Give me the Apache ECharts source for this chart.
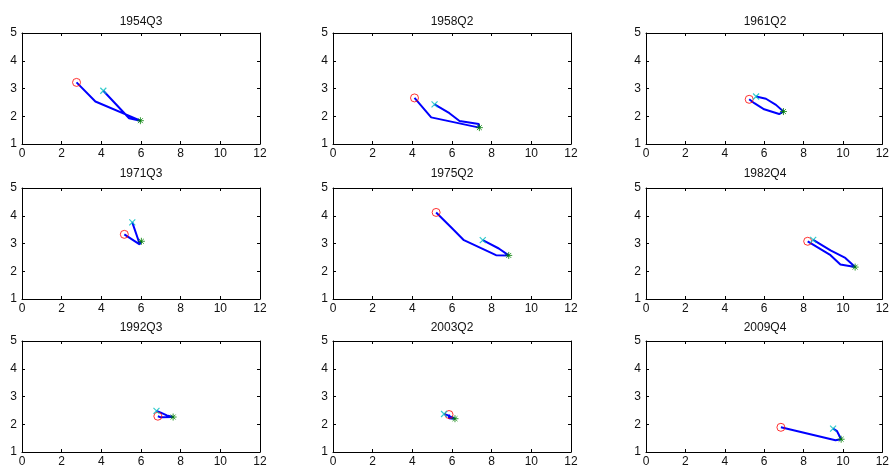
<!DOCTYPE html>
<html>
<head>
<meta charset="utf-8">
<script src="https://cdn.jsdelivr.net/npm/echarts@6/dist/echarts.min.js"></script>
<style>
  html, body { margin: 0; padding: 0; background: #fff; }
  #main { width: 892px; height: 468px; }
</style>
</head>
<body>
<div id="main"></div>
<script>
// panel titles
var titles = ['1954Q3', '1958Q2', '1961Q2', '1971Q3', '1975Q2', '1982Q4', '1992Q3', '2003Q2', '2009Q4'];

// paths (x, y per panel)
var x1954Q3 = [2.75, 3.70, 5.97, 5.40, 4.10];
var y1954Q3 = [3.22, 2.53, 1.84, 1.93, 2.92];
var x1958Q2 = [4.11, 4.95, 7.38, 7.35, 6.38, 5.87, 5.12];
var y1958Q2 = [2.66, 1.96, 1.59, 1.72, 1.83, 2.11, 2.43];
var x1961Q2 = [5.24, 5.50, 6.00, 6.76, 6.98, 6.60, 6.09, 5.59];
var y1961Q2 = [2.61, 2.47, 2.25, 2.08, 2.17, 2.41, 2.63, 2.71];
var x1971Q3 = [5.16, 5.93, 6.02, 5.93, 5.56];
var y1971Q3 = [3.33, 2.97, 3.08, 2.99, 3.76];
var x1975Q2 = [5.20, 6.04, 6.60, 8.22, 8.86, 8.36, 7.55];
var y1975Q2 = [4.12, 3.52, 3.12, 2.58, 2.57, 2.82, 3.12];
var x1982Q4 = [8.21, 9.37, 9.87, 10.62, 10.12, 9.37, 8.49];
var y1982Q4 = [3.08, 2.58, 2.24, 2.15, 2.48, 2.75, 3.13];
var x1992Q3 = [6.85, 7.00, 7.62, 7.30, 7.00, 6.78];
var y1992Q3 = [2.29, 2.25, 2.26, 2.32, 2.42, 2.48];
var x2003Q2 = [5.85, 5.85, 5.95, 6.15, 6.00, 5.80, 5.60];
var y2003Q2 = [2.35, 2.22, 2.15, 2.20, 2.25, 2.32, 2.37];
var x2009Q4 = [6.85, 9.62, 9.91, 9.70, 9.50];
var y2009Q4 = [1.89, 1.42, 1.46, 1.75, 1.84];

// index of the green (*) point in each path
var turnIndex = [2, 2, 4, 2, 4, 3, 2, 3, 2];

var xTicks = [0, 12, 2];
var yTicks = [1, 5, 1];

var xs = [x1954Q3, x1958Q2, x1961Q2, x1971Q3, x1975Q2, x1982Q4, x1992Q3, x2003Q2, x2009Q4];
var ys = [y1954Q3, y1958Q2, y1961Q2, y1971Q3, y1975Q2, y1982Q4, y1992Q3, y2003Q2, y2009Q4];

var colLeft = [22, 333, 646];
var rowTop = [33, 188, 341];
var titleTop = [16, 168, 322];
var gw = 238, gh = 111;

var font = 'Liberation Sans, Arial, sans-serif';
var starPath = 'path://M0,-10L0,10M-10,0L10,0M-7,-7L7,7M-7,7L7,-7';
var crossPath = 'path://M-10,-10L10,10M-10,10L10,-10';
var ringPath = 'path://M10,0A10,10,0,1,1,-10,0A10,10,0,1,1,10,0Z';

var grids = [], xAxes = [], yAxes = [], series = [], titleList = [];

function axisBase(show, pos, min, max, step) {
  return {
    type: 'value', position: pos, min: min, max: max, interval: step,
    axisLine: { show: true, onZero: false, lineStyle: { color: '#000', width: 1 } },
    axisTick: { show: true, inside: true, length: 3, lineStyle: { color: '#000' } },
    axisLabel: { show: show, color: '#111', fontSize: 12, fontFamily: font, margin: 4 },
    splitLine: { show: false }
  };
}

for (var i = 0; i < 9; i++) {
  var c = i % 3, r = Math.floor(i / 3);
  grids.push({ left: colLeft[c], top: rowTop[r], width: gw, height: gh, containLabel: false });
  var xb = axisBase(true, 'bottom', xTicks[0], xTicks[1], xTicks[2]); xb.gridIndex = i;
  var xt = axisBase(false, 'top', xTicks[0], xTicks[1], xTicks[2]); xt.gridIndex = i;
  var yl = axisBase(true, 'left', yTicks[0], yTicks[1], yTicks[2]); yl.gridIndex = i;
  var yr = axisBase(false, 'right', yTicks[0], yTicks[1], yTicks[2]); yr.gridIndex = i;
  yl.axisLabel.margin = 5;
  xAxes.push(xb, xt);
  yAxes.push(yl, yr);

  titleList.push({
    text: titles[i], left: colLeft[c] + gw / 2, top: titleTop[r], textAlign: 'center', padding: 0,
    textStyle: { fontSize: 12, fontWeight: 'normal', color: '#111', fontFamily: font }
  });

  var pts = xs[i].map(function (v, k) { return [v, ys[i][k]]; });
  var xi = 2 * i, yi = 2 * i;
  series.push({
    type: 'line', xAxisIndex: xi, yAxisIndex: yi, data: pts, showSymbol: false, silent: true,
    lineStyle: { color: '#0000ff', width: 2 }, z: 2, animation: false
  });
  series.push({
    type: 'scatter', xAxisIndex: xi, yAxisIndex: yi, data: [pts[0]], symbol: ringPath, symbolSize: 8,
    itemStyle: { color: 'none', borderColor: '#ff0000', borderWidth: 1 }, z: 3, animation: false
  });
  series.push({
    type: 'scatter', xAxisIndex: xi, yAxisIndex: yi, data: [pts[turnIndex[i]]], symbol: starPath, symbolSize: 7,
    itemStyle: { color: 'none', borderColor: '#008000', borderWidth: 1 }, z: 4, animation: false
  });
  series.push({
    type: 'scatter', xAxisIndex: xi, yAxisIndex: yi, data: [pts[pts.length - 1]], symbol: crossPath, symbolSize: 6,
    itemStyle: { color: 'none', borderColor: '#00bfbf', borderWidth: 1.2 }, z: 4, animation: false
  });
}

var chart = echarts.init(document.getElementById('main'), null, { renderer: 'canvas' });
chart.setOption({
  backgroundColor: '#fff',
  animation: false,
  title: titleList,
  grid: grids,
  xAxis: xAxes,
  yAxis: yAxes,
  series: series
});
</script>
</body>
</html>
